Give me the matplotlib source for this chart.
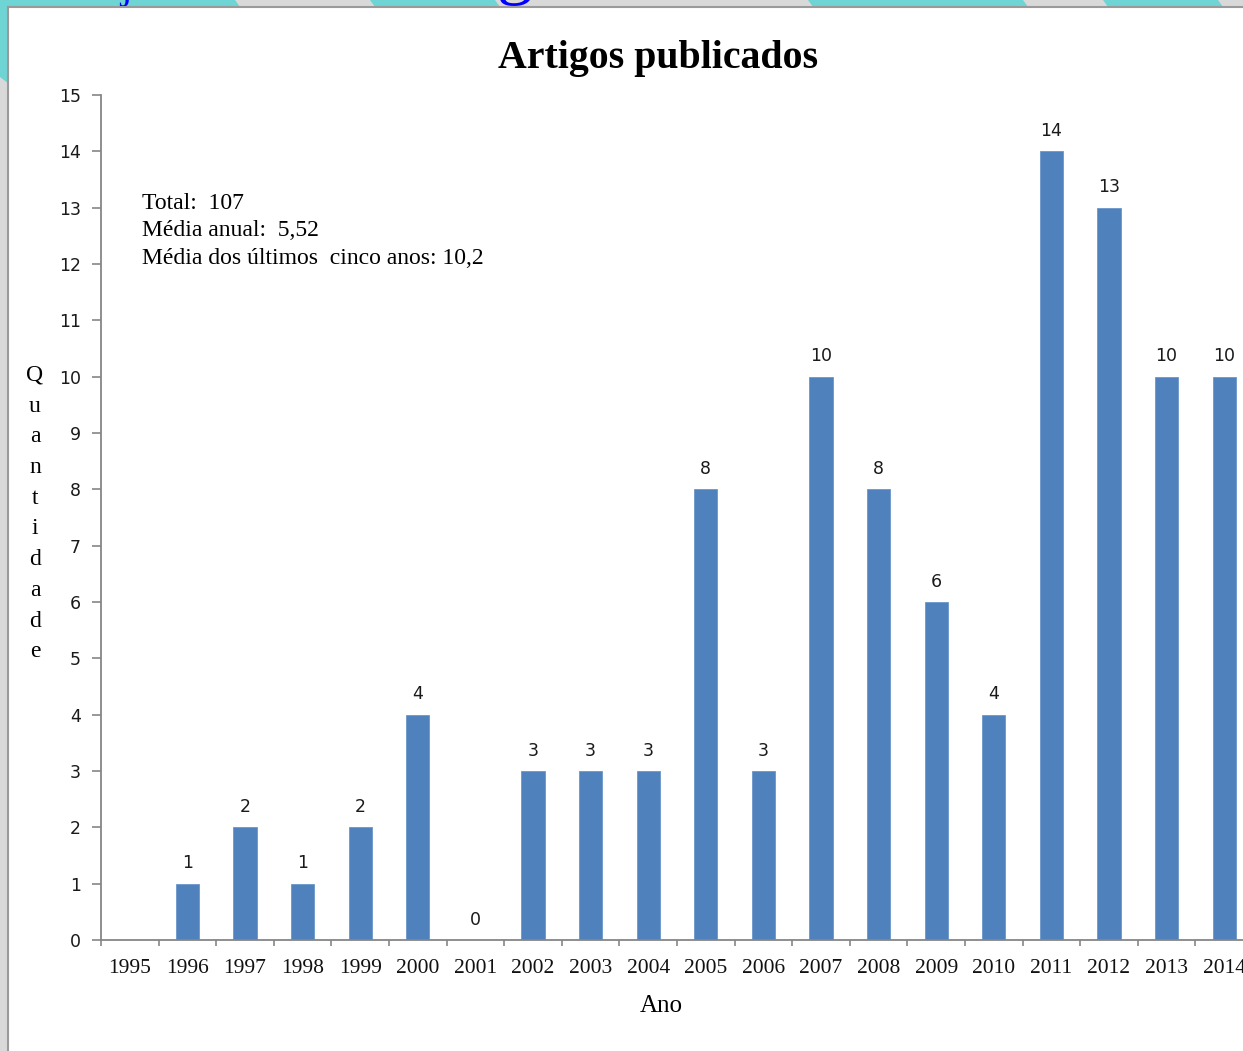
import numpy as np
import matplotlib
matplotlib.use("Agg")
import matplotlib.pyplot as plt
from matplotlib.patches import Polygon, Rectangle
from matplotlib.lines import Line2D

# ---- data ----
years = ["1995", "1996", "1997", "1998", "1999", "2000", "2001", "2002", "2003", "2004",
         "2005", "2006", "2007", "2008", "2009", "2010", "2011", "2012", "2013", "2014"]
counts = [None, 1, 2, 1, 2, 4, 0, 3, 3, 3, 8, 3, 10, 8, 6, 4, 14, 13, 10, 10]
yticks = list(range(0, 16))
title = "Artigos publicados"
ylabel = "Quantidade"
xlabel = "Ano"
notes = ["Total:  107", "Média anual:  5,52", "Média dos últimos  cinco anos: 10,2"]

W, H = 1243, 1051
fig = plt.figure(figsize=(W / 100, H / 100), dpi=100)
fig.patch.set_facecolor("white")

def fx(px):
    return px / W

def fy(py):
    return 1 - py / H

# ---- screenshot frame (gray/teal strips) ----
GRAY = "#d9d9d9"
TEAL = "#6fd4d4"
fig.patches.append(Rectangle((0, fy(7)), 1, 7 / H, transform=fig.transFigure,
                             facecolor=GRAY, edgecolor="none", zorder=0))
fig.patches.append(Rectangle((0, 0), fx(8), 1, transform=fig.transFigure,
                             facecolor=GRAY, edgecolor="none", zorder=0))
teal_top = [(0, 235), (370, 495), (808, 1023), (1103, 1218)]
for a, b in teal_top:
    pts = [(fx(a), fy(0)), (fx(b), fy(0)), (fx(b + 5), fy(7)), (fx(a + 5), fy(7))]
    fig.patches.append(Polygon(pts, closed=True, transform=fig.transFigure,
                               facecolor=TEAL, edgecolor="none", zorder=0.5))
fig.patches.append(Polygon([(0, fy(0)), (fx(9), fy(0)), (fx(9), fy(84)), (0, fy(77))],
                           closed=True, transform=fig.transFigure,
                           facecolor=TEAL, edgecolor="none", zorder=0.5))
fig.add_artist(Line2D([fx(8), 1], [fy(7), fy(7)], transform=fig.transFigure,
                      color="#9a9a9a", lw=1.5, zorder=1))
fig.add_artist(Line2D([fx(8), fx(8)], [fy(7), 0], transform=fig.transFigure,
                      color="#9a9a9a", lw=1.5, zorder=1))
# descenders of the clipped heading text above the chart
fig.text(fx(126), fy(-2), "j", color="#0000ff", fontsize=30, family="Liberation Serif",
         ha="center", va="baseline", zorder=0.8)
fig.text(fx(515), fy(-9), "g", color="#0000ff", fontsize=52, family="Liberation Serif",
         ha="center", va="baseline", zorder=0.8)

# ---- axes ----
x0, x1 = 101, 1253
y_top, y_bot = 95, 940
ax = fig.add_axes([fx(x0), fy(y_bot), (x1 - x0) / W, (y_bot - y_top) / H])
ax.set_facecolor("none")
ax.set_xlim(-0.5, len(years) - 0.5)
ax.set_ylim(0, 15)

xs = [i for i, v in enumerate(counts) if v is not None]
vs = [v for v in counts if v is not None]
ax.bar(xs, vs, width=0.4, color="#4f81bd", edgecolor="#6b97cc", linewidth=0.6, zorder=2)
for x, v in zip(xs, vs):
    ax.annotate(str(v), (x, v), xytext=(0, 11), textcoords="offset points",
                ha="center", va="baseline", fontsize=12.5, family="DejaVu Sans",
                color="#1a1a1a")

for s in ["top", "right"]:
    ax.spines[s].set_visible(False)
for s in ["left", "bottom"]:
    ax.spines[s].set_color("#868686")
    ax.spines[s].set_linewidth(1.3)

ax.set_yticks(yticks)
ax.set_yticklabels([str(t) for t in yticks], fontsize=12.5, family="DejaVu Sans", color="#1a1a1a")
ax.tick_params(axis="y", direction="out", length=6.5, width=1.2, color="#868686", pad=8)

ax.set_xticks(range(len(years)))
ax.set_xticklabels(years, fontsize=15.5, family="Liberation Serif", color="#111111")
ax.set_xticks([i - 0.5 for i in range(len(years) + 1)], minor=True)
ax.tick_params(axis="x", which="major", length=0, pad=13.5)
ax.tick_params(axis="x", which="minor", direction="out", length=4.5, width=1.2, color="#868686")

# ---- texts ----
fig.text(fx(658), fy(68), title, ha="center", va="baseline", fontsize=28.7,
         fontweight="bold", family="Liberation Serif")
fig.text(fx(661), fy(1012), xlabel, ha="center", va="baseline", fontsize=18,
         family="Liberation Serif")
for i, ch in enumerate(ylabel):
    fig.text(fx(35), fy(381 + 30.7 * i), ch, ha="center", va="baseline", fontsize=17,
             family="Liberation Serif")
for i, line in enumerate(notes):
    fig.text(fx(142), fy(209 + 27.5 * i), line, ha="left", va="baseline", fontsize=17,
             family="Liberation Serif")

fig.savefig("out.png", dpi=100)
